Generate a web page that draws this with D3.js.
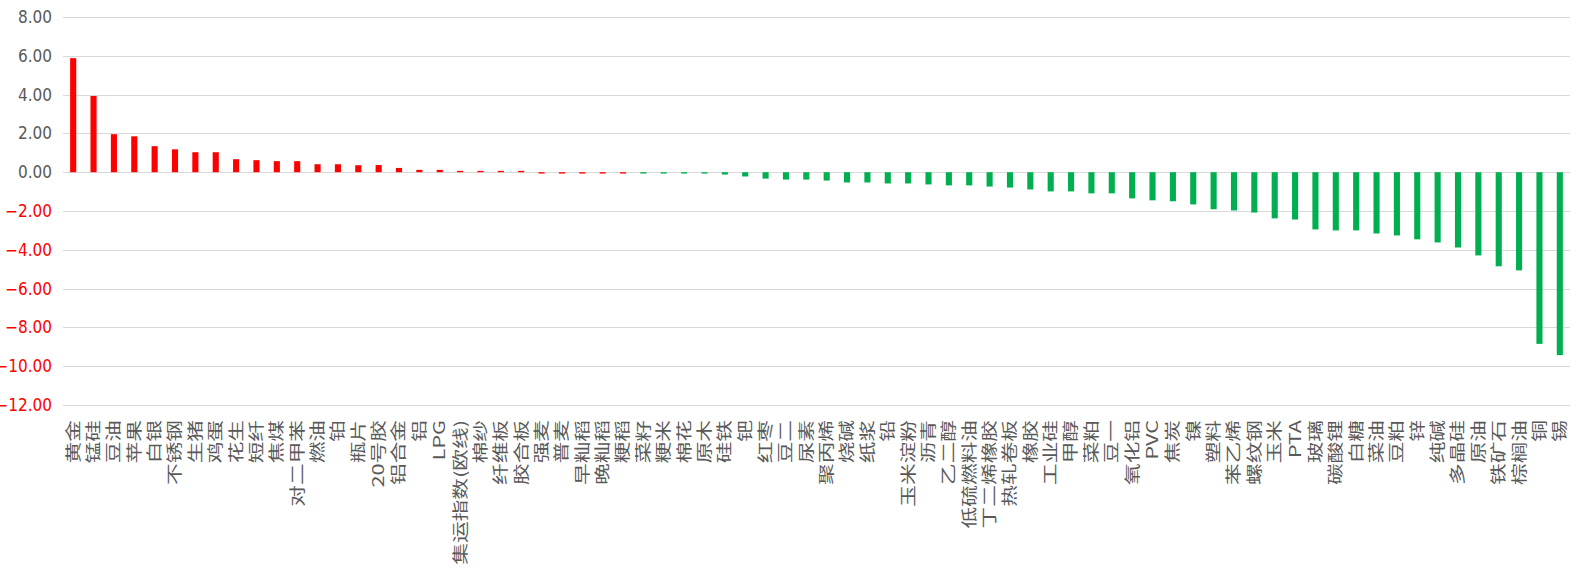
<!DOCTYPE html>
<html>
<head>
<meta charset="utf-8">
<script src="https://cdn.jsdelivr.net/npm/d3@7"></script>
<style>
  body { margin: 0; background: #fff; }
  svg { display: block; }
</style>
</head>
<body>
<svg id="chart"></svg>
<script>
// commodity names, sorted by change (%)
const categories = [
    "黄金", "锰硅", "豆油", "苹果", "白银", "不锈钢", "生猪", "鸡蛋", "花生", "短纤",
    "焦煤", "对二甲苯", "燃油", "铂", "瓶片", "20号胶", "铝合金", "铝", "LPG", "集运指数(欧线)",
    "棉纱", "纤维板", "胶合板", "强麦", "普麦", "早籼稻", "晚籼稻", "粳稻", "菜籽", "粳米",
    "棉花", "原木", "硅铁", "钯", "红枣", "豆二", "尿素", "聚丙烯", "烧碱", "纸浆",
    "铅", "玉米淀粉", "沥青", "乙二醇", "低硫燃料油", "丁二烯橡胶", "热轧卷板", "橡胶", "工业硅", "甲醇",
    "菜粕", "豆一", "氧化铝", "PVC", "焦炭", "镍", "塑料", "苯乙烯", "螺纹钢", "玉米",
    "PTA", "玻璃", "碳酸锂", "白糖", "菜油", "豆粕", "锌", "纯碱", "多晶硅", "原油",
    "铁矿石", "棕榈油", "铜", "锡"
];

const changes = [
    5.88, 3.93, 1.96, 1.85, 1.34, 1.18, 1.03, 1.03, 0.67, 0.62,
    0.57, 0.57, 0.41, 0.41, 0.36, 0.37, 0.22, 0.12, 0.12, 0.07,
    0.07, 0.07, 0.07, -0.07, -0.07, -0.07, -0.07, -0.07, -0.07, -0.07,
    -0.07, -0.07, -0.12, -0.22, -0.33, -0.38, -0.38, -0.43, -0.53, -0.53,
    -0.58, -0.58, -0.63, -0.68, -0.68, -0.74, -0.79, -0.89, -0.99, -0.99,
    -1.09, -1.09, -1.35, -1.45, -1.50, -1.66, -1.91, -1.97, -2.08, -2.38,
    -2.44, -2.95, -3.00, -3.00, -3.16, -3.26, -3.46, -3.62, -3.88, -4.29,
    -4.85, -5.06, -8.85, -9.43
];

// first N commodities are shown in red (the rest in green)
const redCount = 28;

const yTicks = [8, 6, 4, 2, 0, -2, -4, -6, -8, -10, -12];

const width = 1577;
const height = 573;
const margin = { top: 17, right: 7, bottom: 168, left: 63 };

const svg = d3.select("#chart")
    .attr("width", width)
    .attr("height", height);

const x = d3.scaleBand()
    .domain(categories)
    .range([margin.left, width - margin.right])
    .paddingInner(0.7)
    .paddingOuter(0.35);

const y = d3.scaleLinear()
    .domain([-12, 8])
    .range([height - margin.bottom, margin.top]);

// gridlines
svg.append("g")
    .selectAll("line")
    .data(yTicks)
    .join("line")
    .attr("x1", margin.left)
    .attr("x2", width - margin.right)
    .attr("y1", d => Math.round(y(d)) + 0.5)
    .attr("y2", d => Math.round(y(d)) + 0.5)
    .attr("stroke", "#d9d9d9")
    .attr("stroke-width", 1);

// y axis labels (negative values in red)
const yAxis = d3.axisLeft(y)
    .tickValues(yTicks)
    .tickFormat(d3.format(".2f"))
    .tickSize(0)
    .tickPadding(11);

svg.append("g")
    .attr("transform", `translate(${margin.left},0)`)
    .call(yAxis)
    .call(g => g.select(".domain").remove())
    .selectAll("text")
    .attr("font-family", "'Liberation Sans Narrow', 'DejaVu Sans Condensed', sans-serif")
    .attr("font-size", 17)
    .attr("fill", d => d < 0 ? "#ff0000" : "#595959");

// bars
svg.append("g")
    .selectAll("rect")
    .data(categories)
    .join("rect")
    .attr("x", d => x(d))
    .attr("width", x.bandwidth())
    .attr("y", (d, i) => y(Math.max(0, changes[i])))
    .attr("height", (d, i) => Math.abs(y(changes[i]) - y(0)))
    .attr("fill", (d, i) => i < redCount ? "#ff0000" : "#00b050");

// category labels, rotated (glyphs look stretched along the text in the original)
const xAxis = d3.axisBottom(x).tickSize(0).tickPadding(0);

svg.append("g")
    .attr("transform", `translate(0,${height - margin.bottom})`)
    .call(xAxis)
    .call(g => g.select(".domain").remove())
    .selectAll("text")
    .attr("font-family", "'Noto Sans CJK SC', sans-serif")
    .attr("font-size", 15.5)
    .attr("fill", "#595959")
    .attr("text-anchor", "end")
    .attr("dy", "0.35em")
    .attr("transform", "translate(0,15) rotate(-90) scale(1.4,1)");
</script>
</body>
</html>
